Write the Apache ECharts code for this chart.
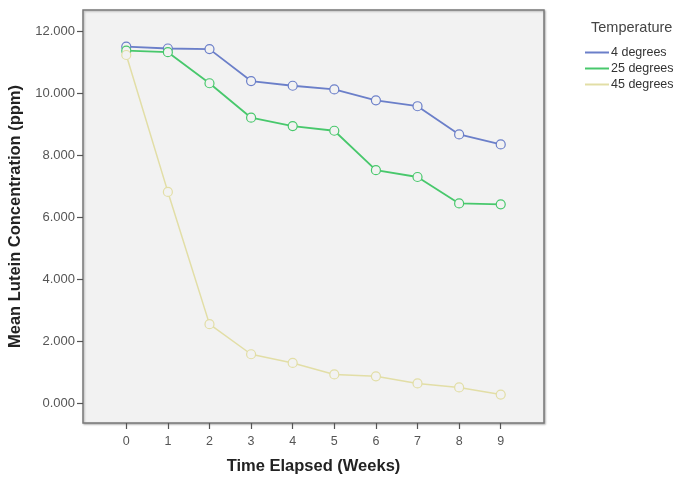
<!DOCTYPE html>
<html>
<head>
<meta charset="utf-8">
<script src="https://cdn.jsdelivr.net/npm/echarts@6/dist/echarts.min.js"></script>
<style>html,body{margin:0;padding:0;background:#fff}#c{width:676px;height:477px}</style>
</head>
<body>
<div id="c"></div>
<script>
var weeks = [0,1,2,3,4,5,6,7,8,9];
var deg4  = [11.50,11.44,11.42,10.39,10.24,10.12,9.77,9.58,8.67,8.35];
var deg25 = [11.37,11.32,10.32,9.21,8.94,8.79,7.52,7.30,6.45,6.42];
var deg45 = [11.23,6.82,2.56,1.59,1.31,0.94,0.88,0.65,0.52,0.29];
var yTicks = [0,2,4,6,8,10,12];
var seriesNames = ['4 degrees','25 degrees','45 degrees'];
var colors = ['#6b7fc9','#48c86c','#e2dea6'];
var FONT = 'Liberation Sans, Arial, sans-serif';

function pairs(arr){ return weeks.map(function(w,i){ return [w, arr[i]]; }); }
function mk(name, arr, color, w){
  return {
    name: name, type: 'line', data: pairs(arr),
    symbol: 'circle', symbolSize: 9, showSymbol: true,
    lineStyle: {color: color, width: w},
    itemStyle: {color: '#f2f2f2', borderColor: color, borderWidth: 1.2},
    emphasis: {disabled: true}
  };
}
var chart = echarts.init(document.getElementById('c'), null, {renderer: 'canvas'});
chart.setOption({
  animation: false,
  backgroundColor: '#ffffff',
  title: {
    text: 'Temperature', left: 586, top: 15,
    textStyle: {fontFamily: FONT, fontSize: 14.5, fontWeight: 'normal', color: '#444'}
  },
  legend: {
    orient: 'vertical', left: 580, top: 41, itemGap: 3,
    itemWidth: 24, itemHeight: 2,
    data: seriesNames.map(function(n, i){ return {name: n, icon: 'rect', itemStyle: {color: colors[i], borderWidth: 0}}; }),
    textStyle: {fontFamily: FONT, fontSize: 12.5, color: '#333', padding: [0,0,0,-3]}
  },
  grid: {
    left: 83, top: 10, right: 132, bottom: 54,
    outerBoundsMode: 'none', containLabel: false,
    show: true, backgroundColor: '#f2f2f2', borderColor: '#7a7a7a', borderWidth: 1.5,
    shadowColor: 'rgba(0,0,0,0.25)', shadowBlur: 2, shadowOffsetX: 1, shadowOffsetY: 1
  },
  xAxis: {
    type: 'value', min: -1.04, max: 10.04,
    name: 'Time Elapsed (Weeks)', nameLocation: 'middle', nameGap: 35,
    nameTextStyle: {fontFamily: FONT, fontSize: 16.5, fontWeight: 'bold', color: '#222'},
    axisLine: {show: false, onZero: false},
    axisTick: {show: true, length: 6, customValues: weeks, lineStyle: {color: '#555', width: 1.2}},
    axisLabel: {customValues: weeks, margin: 12, fontFamily: FONT, fontSize: 12.5, color: '#555'},
    splitLine: {show: false}
  },
  yAxis: {
    type: 'value', min: -0.625, max: 12.68,
    name: 'Mean Lutein Concentration (ppm)', nameLocation: 'middle', nameGap: 45,
    nameTextStyle: {fontFamily: FONT, fontSize: 16.5, fontWeight: 'bold', color: '#222'},
    axisLine: {show: false, onZero: false},
    axisTick: {show: true, length: 6, customValues: yTicks, lineStyle: {color: '#555', width: 1.2}},
    axisLabel: {customValues: yTicks, margin: 8, fontFamily: FONT, fontSize: 13, color: '#555',
      formatter: function(v){ return v.toFixed(3); }},
    splitLine: {show: false}
  },
  series: [
    mk(seriesNames[0], deg4, colors[0], 1.8),
    mk(seriesNames[1], deg25, colors[1], 1.8),
    mk(seriesNames[2], deg45, colors[2], 1.5)
  ]
});
</script>
</body>
</html>
